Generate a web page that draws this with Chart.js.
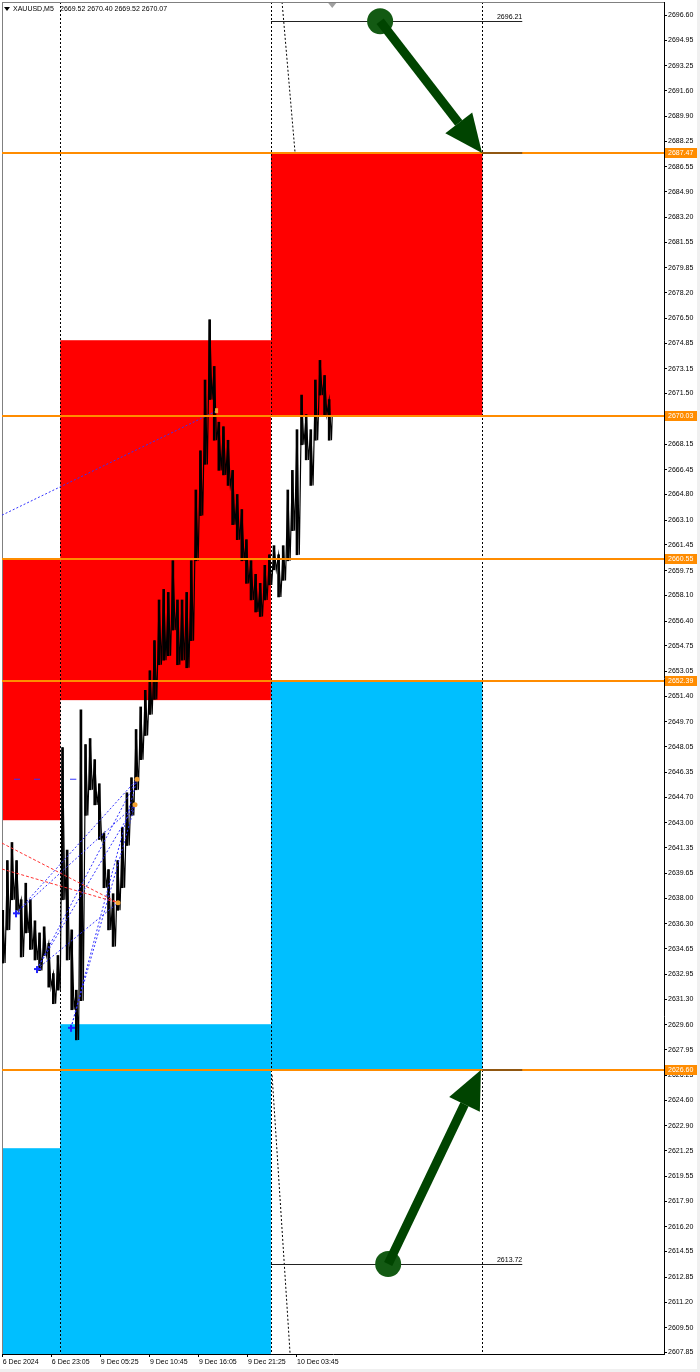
<!DOCTYPE html>
<html>
<head>
<meta charset="utf-8">
<title>XAUUSD,M5</title>
<script src="https://cdn.jsdelivr.net/npm/chart.js@4.4.1/dist/chart.umd.min.js"></script>
<style>
  html, body { margin: 0; padding: 0; background: #fff; }
  #wrap { width: 700px; height: 1372px; }
</style>
</head>
<body>
<div id="wrap"><canvas id="priceChart" width="700" height="1372"></canvas></div>
<script>
// x values are 5-minute bar numbers counted from the first bar on screen
var timeTicks = [0, 64, 128, 192, 256, 320, 384];
var timeLabels = ['6 Dec 2024', '6 Dec 23:05', '9 Dec 05:25', '9 Dec 10:45', '9 Dec 16:05', '9 Dec 21:25', '10 Dec 03:45'];

var priceTicks = [2696.60, 2694.95, 2693.25, 2691.60, 2689.90, 2688.25, 2686.55, 2684.90, 2683.20, 2681.55,
  2679.85, 2678.20, 2676.50, 2674.85, 2673.15, 2671.50, 2669.80, 2668.15, 2666.45, 2664.80,
  2663.10, 2661.45, 2659.75, 2658.10, 2656.40, 2654.75, 2653.05, 2651.40, 2649.70, 2648.05,
  2646.35, 2644.70, 2643.00, 2641.35, 2639.65, 2638.00, 2636.30, 2634.65, 2632.95, 2631.30,
  2629.60, 2627.95, 2626.25, 2624.60, 2622.90, 2621.25, 2619.55, 2617.90, 2616.20, 2614.55,
  2612.85, 2611.20, 2609.50, 2607.85];

// price, sampled every 6 bars (high / low of each group)
var barIndex = [0, 6, 12, 18, 24, 30, 36, 42, 48, 54, 60, 66, 72, 78, 84, 90, 96, 102, 108, 114,
  120, 126, 132, 138, 144, 150, 156, 162, 168, 174, 180, 186, 192, 198, 204, 210, 216, 222, 228, 234,
  240, 246, 252, 258, 264, 270, 276, 282, 288, 294, 300, 306, 312, 318, 324, 330, 336, 342, 348, 354,
  360, 366, 372, 378, 384, 390, 396, 402, 408, 414, 420, 426];
var barHigh = [2637.2, 2640.5, 2641.7, 2640.5, 2637.9, 2639.0, 2637.9, 2636.5, 2635.7, 2636.1,
  2635.0, 2633.0, 2634.2, 2648.0, 2641.2, 2635.9, 2631.9, 2650.5, 2648.2, 2648.6,
  2647.2, 2645.6, 2642.3, 2639.9, 2638.3, 2640.5, 2642.7, 2645.0, 2646.0, 2649.2,
  2650.7, 2651.8, 2653.1, 2655.1, 2657.8, 2658.5, 2658.3, 2660.4, 2657.8, 2657.8,
  2658.3, 2660.4, 2665.1, 2667.7, 2672.4, 2676.4, 2673.3, 2669.6, 2669.3, 2668.4,
  2666.4, 2664.8, 2663.8, 2661.8, 2660.4, 2659.5, 2658.9, 2660.1, 2660.8, 2661.4,
  2660.8, 2661.4, 2665.1, 2666.4, 2669.1, 2671.4, 2670.1, 2669.1, 2672.4, 2673.7,
  2672.7, 2671.1];
var barLow = [2633.7, 2635.9, 2637.9, 2637.2, 2634.1, 2635.7, 2634.6, 2633.9, 2633.2, 2634.2,
  2632.1, 2631.0, 2631.9, 2637.9, 2633.9, 2630.6, 2628.6, 2631.2, 2643.5, 2645.2,
  2644.2, 2641.9, 2638.7, 2635.9, 2634.8, 2637.2, 2638.7, 2641.5, 2643.5, 2645.2,
  2647.2, 2648.8, 2650.2, 2651.2, 2653.5, 2653.8, 2654.1, 2655.8, 2653.5, 2653.8,
  2653.3, 2655.1, 2660.4, 2663.4, 2666.8, 2671.1, 2668.4, 2666.4, 2666.1, 2665.4,
  2662.8, 2661.8, 2660.4, 2658.9, 2657.8, 2657.0, 2656.7, 2657.8, 2658.8, 2659.8,
  2658.0, 2659.1, 2660.4, 2662.4, 2660.8, 2668.1, 2667.1, 2665.4, 2668.4, 2671.4,
  2670.1, 2668.4];
var lastBar = 430;
var lastQuote = [2669.52, 2670.40, 2669.52, 2670.07];

// supply / demand rectangles
var zoneStart = [-1, 75, 350, 350, 75, -1];
var zoneEnd = [75, 350, 626, 626, 350, 75];
var zoneTop = [2660.57, 2675.04, 2687.47, 2652.39, 2629.64, 2621.41];
var zoneBottom = [2643.18, 2651.15, 2670.03, 2626.60, 2600, 2600];
var zoneKind = ['sell', 'sell', 'sell', 'buy', 'buy', 'buy'];

var levelPrices = [2687.47, 2670.03, 2660.55, 2652.39, 2626.60];
var targetPrices = [2696.21, 2613.72];
var targetStart = 350, targetEnd = 678;
var sessionLines = [75, 350, 626];

var arrowFrom = [[492.5, 2696.21], [503, 2613.72]];
var arrowTo = [[625.5, 2687.47], [624, 2626.60]];

// blue pivots and the dotted lines joining them
var pivotX = [17.3, 44.7, 89.1];
var pivotY = [2637.0, 2633.3, 2629.4];
var swingX = [175.2, 172.6, 150.4];
var swingY = [2645.9, 2644.2, 2637.7];
var bluePairs = [[0, 0], [0, 1], [1, 0], [1, 1], [1, 2], [2, 0], [2, 1]];

var pricePoints = barIndex.map(function(b, i) { return { x: b, y: [barLow[i], barHigh[i]] }; });
var zigzag = [];
barIndex.forEach(function(b, i) {
  zigzag.push({ x: b, y: barHigh[i] });
  zigzag.push({ x: b + 3, y: barLow[i] });
});
zigzag.push({ x: lastBar, y: lastQuote[3] });

function dottedLine(ctx, x0, y0, x1, y1, color, dash) {
  ctx.strokeStyle = color;
  ctx.lineWidth = 1;
  ctx.setLineDash(dash);
  ctx.beginPath();
  ctx.moveTo(x0, y0);
  ctx.lineTo(x1, y1);
  ctx.stroke();
  ctx.setLineDash([]);
}

function drawArrow(ctx, x0, y0, x1, y1) {
  var ang = Math.atan2(y1 - y0, x1 - x0);
  var headLen = 38, headHalf = 17;
  var bx = x1 - headLen * Math.cos(ang), by = y1 - headLen * Math.sin(ang);
  ctx.fillStyle = '#135a13';
  ctx.beginPath();
  ctx.arc(x0, y0, 13, 0, Math.PI * 2);
  ctx.fill();
  ctx.strokeStyle = '#004400';
  ctx.lineWidth = 9;
  ctx.beginPath();
  ctx.moveTo(x0, y0);
  ctx.lineTo(bx, by);
  ctx.stroke();
  ctx.fillStyle = '#004400';
  ctx.beginPath();
  ctx.moveTo(x1, y1);
  ctx.lineTo(bx + headHalf * Math.sin(ang), by - headHalf * Math.cos(ang));
  ctx.lineTo(bx - headHalf * Math.sin(ang), by + headHalf * Math.cos(ang));
  ctx.closePath();
  ctx.fill();
}

var drawingsPlugin = {
  id: 'drawings',
  beforeDraw: function(chart) {
    var ctx = chart.ctx;
    ctx.save();
    ctx.fillStyle = '#ffffff';
    ctx.fillRect(0, 0, chart.width, chart.height);
    ctx.restore();
  },
  beforeDatasetsDraw: function(chart) {
    var ctx = chart.ctx, xs = chart.scales.x, ys = chart.scales.y, a = chart.chartArea;
    ctx.save();
    ctx.beginPath();
    ctx.rect(a.left, a.top, a.right - a.left, a.bottom - a.top);
    ctx.clip();
    for (var i = 0; i < zoneStart.length; i++) {
      var x0 = xs.getPixelForValue(zoneStart[i]), x1 = xs.getPixelForValue(zoneEnd[i]);
      var y0 = ys.getPixelForValue(zoneTop[i]), y1 = ys.getPixelForValue(zoneBottom[i]);
      ctx.fillStyle = zoneKind[i] === 'sell' ? '#ff0000' : '#00bfff';
      ctx.fillRect(x0, y0, x1 - x0, y1 - y0);
    }
    sessionLines.forEach(function(b) {
      var px = Math.round(xs.getPixelForValue(b)) + 0.5;
      dottedLine(ctx, px, a.top, px, a.bottom, '#000000', [2, 2]);
    });
    // slanted dotted lines near the last session
    dottedLine(ctx, xs.getPixelForValue(364.5), a.top, xs.getPixelForValue(381.5), ys.getPixelForValue(2687.47), '#000000', [2, 2]);
    dottedLine(ctx, xs.getPixelForValue(351.5), ys.getPixelForValue(2626.25), xs.getPixelForValue(375), a.bottom, '#000000', [2, 2]);
    // frame
    ctx.fillStyle = '#808080';
    ctx.fillRect(a.left, a.top, 1, a.bottom - a.top);
    ctx.fillRect(a.left, a.top, a.right - a.left, 1);
    ctx.restore();
  },
  afterDatasetsDraw: function(chart) {
    var ctx = chart.ctx, xs = chart.scales.x, ys = chart.scales.y, a = chart.chartArea;
    ctx.save();
    ctx.beginPath();
    ctx.rect(a.left, a.top, a.right - a.left, a.bottom - a.top);
    ctx.clip();

    // trend lines
    dottedLine(ctx, xs.getPixelForValue(-1), ys.getPixelForValue(2663.43), xs.getPixelForValue(278.4), ys.getPixelForValue(2670.33), '#3333ff', [2, 2]);
    bluePairs.forEach(function(p) {
      dottedLine(ctx, xs.getPixelForValue(pivotX[p[0]]), ys.getPixelForValue(pivotY[p[0]]),
        xs.getPixelForValue(swingX[p[1]]), ys.getPixelForValue(swingY[p[1]]), '#3333ff', [2, 2]);
    });
    dottedLine(ctx, xs.getPixelForValue(-1), ys.getPixelForValue(2641.66), xs.getPixelForValue(swingX[2]), ys.getPixelForValue(swingY[2]), '#ff3333', [3, 2]);
    dottedLine(ctx, xs.getPixelForValue(-1), ys.getPixelForValue(2639.94), xs.getPixelForValue(swingX[2]), ys.getPixelForValue(swingY[2]), '#ff3333', [3, 2]);
    dottedLine(ctx, xs.getPixelForValue(14.7), ys.getPixelForValue(2645.9), xs.getPixelForValue(53.8), ys.getPixelForValue(2645.9), '#3333ff', [6, 14]);
    dottedLine(ctx, xs.getPixelForValue(87.8), ys.getPixelForValue(2645.9), xs.getPixelForValue(96), ys.getPixelForValue(2645.9), '#3333ff', []);

    ctx.fillStyle = '#2222ff';
    pivotX.forEach(function(px, i) {
      var cx = xs.getPixelForValue(px), cy = ys.getPixelForValue(pivotY[i]);
      ctx.fillRect(cx - 3, cy - 1, 7, 2);
      ctx.fillRect(cx - 1, cy - 3, 2, 7);
    });
    ctx.fillStyle = '#f0a030';
    swingX.forEach(function(px, i) {
      var cx = xs.getPixelForValue(px), cy = ys.getPixelForValue(swingY[i]);
      ctx.beginPath();
      ctx.arc(cx, cy, 2.5, 0, Math.PI * 2);
      ctx.fill();
    });
    ctx.fillRect(xs.getPixelForValue(278.4) - 1, ys.getPixelForValue(2670.33) - 3, 3, 5);

    // orange levels
    ctx.strokeStyle = '#ff8c00';
    ctx.lineWidth = 2;
    levelPrices.forEach(function(p) {
      var py = Math.round(ys.getPixelForValue(p));
      ctx.beginPath();
      ctx.moveTo(a.left, py);
      ctx.lineTo(a.right, py);
      ctx.stroke();
    });

    // target lines
    ctx.strokeStyle = '#222222';
    ctx.lineWidth = 1;
    ctx.fillStyle = '#000000';
    ctx.font = '7px "Liberation Sans", Arial, sans-serif';
    ctx.textAlign = 'right';
    ctx.textBaseline = 'bottom';
    targetPrices.forEach(function(p) {
      var py = Math.round(ys.getPixelForValue(p)) + 0.5;
      ctx.beginPath();
      ctx.moveTo(xs.getPixelForValue(targetStart), py);
      ctx.lineTo(xs.getPixelForValue(targetEnd), py);
      ctx.stroke();
      ctx.fillText(p.toFixed(2), xs.getPixelForValue(targetEnd), py - 1);
    });
    [levelPrices[0], levelPrices[4]].forEach(function(p) {
      var py = Math.round(ys.getPixelForValue(p));
      ctx.beginPath();
      ctx.moveTo(xs.getPixelForValue(626), py);
      ctx.lineTo(xs.getPixelForValue(targetEnd), py);
      ctx.stroke();
    });

    for (var k = 0; k < arrowFrom.length; k++) {
      drawArrow(ctx,
        xs.getPixelForValue(arrowFrom[k][0]), ys.getPixelForValue(arrowFrom[k][1]),
        xs.getPixelForValue(arrowTo[k][0]), ys.getPixelForValue(arrowTo[k][1]));
    }

    // chart shift marker
    var sx = xs.getPixelForValue(lastBar);
    ctx.fillStyle = '#a0a0a0';
    ctx.beginPath();
    ctx.moveTo(sx - 4, a.top + 1);
    ctx.lineTo(sx + 4, a.top + 1);
    ctx.lineTo(sx, a.top + 6);
    ctx.closePath();
    ctx.fill();
    ctx.restore();
  },
  afterDraw: function(chart) {
    var ctx = chart.ctx, ys = chart.scales.y, a = chart.chartArea;
    ctx.save();
    ctx.font = '7px "Liberation Sans", Arial, sans-serif';
    ctx.textBaseline = 'middle';
    ctx.textAlign = 'left';
    levelPrices.forEach(function(p) {
      var py = Math.round(ys.getPixelForValue(p));
      ctx.fillStyle = '#ff8c00';
      ctx.fillRect(a.right + 1, py - 5, 33, 10);
      ctx.fillStyle = '#ffffff';
      ctx.fillText(p.toFixed(2), a.right + 4, py + 0.5);
    });

    // symbol header
    ctx.fillStyle = '#000000';
    ctx.beginPath();
    ctx.moveTo(4, 7);
    ctx.lineTo(10, 7);
    ctx.lineTo(7, 11);
    ctx.closePath();
    ctx.fill();
    ctx.font = '7px "Liberation Sans", Arial, sans-serif';
    ctx.fillText('XAUUSD,M5', 13, 9.5);
    ctx.fillText(lastQuote.map(function(v) { return v.toFixed(2); }).join(' '), 60, 9.5);

    ctx.fillStyle = '#f0f0f0';
    ctx.fillRect(0, chart.height - 3, chart.width, 3);
    ctx.fillRect(chart.width - 3, 0, 3, chart.height);
    ctx.restore();
  }
};

document.addEventListener('DOMContentLoaded', function() {
  var ctx = document.getElementById('priceChart').getContext('2d');

  var priceChart = new Chart(ctx, {
    type: 'bar',
    data: {
      datasets: [{
        type: 'bar',
        data: pricePoints,
        backgroundColor: '#000000',
        barThickness: 2,
        grouped: false,
        order: 2
      }, {
        type: 'line',
        data: zigzag,
        borderColor: '#000000',
        borderWidth: 1.2,
        pointRadius: 0,
        tension: 0,
        order: 1
      }]
    },
    options: {
      responsive: false,
      animation: false,
      devicePixelRatio: 1,
      layout: { padding: { left: 2, top: 2, right: 0, bottom: 0 } },
      plugins: {
        legend: { display: false },
        tooltip: { enabled: false }
      },
      scales: {
        x: {
          type: 'linear',
          position: 'bottom',
          offset: false,
          min: -1,
          max: 863,
          afterBuildTicks: function(axis) {
            axis.ticks = timeTicks.map(function(v) { return { value: v }; });
          },
          afterFit: function(axis) {
            axis.height = 18;
            axis.paddingLeft = 0;
            axis.paddingRight = 0;
          },
          ticks: {
            autoSkip: false,
            maxRotation: 0,
            align: 'start',
            padding: 1,
            color: '#000000',
            font: { family: '"Liberation Sans", Arial, sans-serif', size: 7 },
            callback: function(value) {
              var i = timeTicks.indexOf(value);
              return i >= 0 ? timeLabels[i] : '';
            }
          },
          grid: { offset: false, drawOnChartArea: false, drawTicks: true, tickLength: 3, color: '#000000' },
          border: { display: true, color: '#000000', width: 1 }
        },
        y: {
          type: 'linear',
          position: 'right',
          min: 2607.75,
          max: 2697.49,
          afterBuildTicks: function(axis) {
            axis.ticks = priceTicks.map(function(v) { return { value: v }; });
          },
          afterFit: function(axis) {
            axis.width = 36;
            axis.paddingTop = 0;
            axis.paddingBottom = 0;
          },
          ticks: {
            autoSkip: false,
            padding: 1,
            color: '#000000',
            font: { family: '"Liberation Sans", Arial, sans-serif', size: 7 },
            callback: function(value) { return value.toFixed(2); }
          },
          grid: { drawOnChartArea: false, drawTicks: true, tickLength: 3, color: '#000000' },
          border: { display: true, color: '#000000', width: 1 }
        }
      }
    },
    plugins: [drawingsPlugin]
  });
});
</script>
</body>
</html>
